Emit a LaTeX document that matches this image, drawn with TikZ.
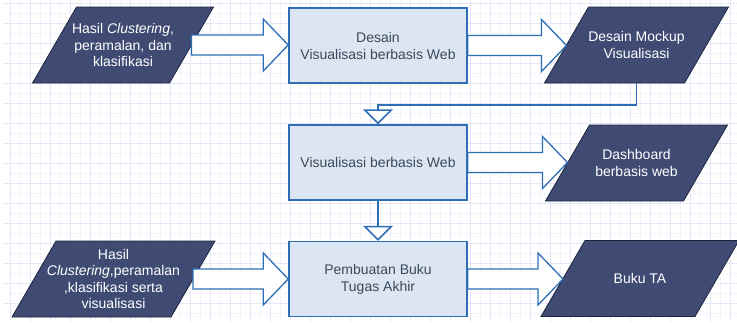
\documentclass[tikz,border=0pt]{standalone}
\usepackage{fontspec}
\setmainfont{Liberation Sans}
\usetikzlibrary{arrows.meta,calc,backgrounds}

\definecolor{gridmajor}{RGB}{230,230,248}
\definecolor{gridminor}{RGB}{243,243,252}
\definecolor{boxfill}{RGB}{220,230,242}
\definecolor{boxline}{RGB}{46,110,180}
\definecolor{parafill}{RGB}{64,75,115}
\definecolor{paraline}{RGB}{28,36,60}
\definecolor{boxtext}{RGB}{60,72,92}

\tikzset{
  process/.style={draw=boxline, fill=boxfill, line width=1.5pt, minimum width=178pt,
    minimum height=75pt, align=center, text=boxtext, font=\fontsize{14}{17}\selectfont},
  data/.style={minimum width=#1, minimum height=76pt, inner sep=0pt, outer sep=0pt,
    align=center, text=white, font=\fontsize{14}{16.5}\selectfont},
  databox/.style={draw=paraline, fill=parafill, line width=0.8pt, line join=miter},
  flow/.style={draw=boxline, line width=1.5pt,
    -{Triangle[open, width=30pt, length=15pt, fill=white]}},
  blockarrow/.style={draw=boxline, fill=white, line width=1.3pt, line join=miter}
}

\newcommand{\bigarrow}[2]{%
  \draw[blockarrow] let \p1=(#1.east), \p2=(#2.west) in
    (\x1,\y1+10pt) -- (\x2-25pt,\y1+10pt) -- (\x2-25pt,\y1+26pt) -- (\x2,\y1)
    -- (\x2-25pt,\y1-26pt) -- (\x2-25pt,\y1-10pt) -- (\x1,\y1-10pt) -- cycle;}

\begin{document}
\begin{tikzpicture}[x=1pt, y=-1pt]
    \useasboundingbox (0,0) rectangle (737,322);
    \begin{scope}[on background layer, shift={(10,3)}]
        \draw[gridminor, line width=0.5pt, step=10pt] (-6,-3) grid (727,319);
        \draw[gridmajor, line width=0.7pt, step=20pt] (-6,-3) grid (727,319);
    \end{scope}

    \node[data=137pt] (hasil) at (123,45) {Hasil \textit{Clustering},\\peramalan, dan\\klasifikasi};
    \node[process] (desain) at (378,45.5) {Desain\\Visualisasi berbasis Web};
    \node[data=140pt] (mockup) at (636.5,45) {Desain Mockup\\Visualisasi};
    \node[process] (web) at (378,162.5) {Visualisasi berbasis Web};
    \node[data=138pt] (dashboard) at (636.5,163) {Dashboard\\berbasis web};
    \node[data=159pt] (hasilvis) at (113.5,279) {Hasil\\\textit{Clustering},peramalan\\,klasifikasi serta\\visualisasi};
    \node[process] (buku) at (378,279) {Pembuatan Buku\\Tugas Akhir};
    \node[data=154pt] (bukuta) at (640,278.5) {Buku TA};

    \begin{scope}[on background layer]
        \foreach \n in {hasil,mockup,dashboard,hasilvis,bukuta}
            \draw[databox] ($(\n.north west)+(22,0)$) -- ($(\n.north east)+(22,0)$)
                -- ($(\n.south east)+(-22,0)$) -- ($(\n.south west)+(-22,0)$) -- cycle;
    \end{scope}

    \bigarrow{hasil}{desain}
    \bigarrow{desain}{mockup}
    \bigarrow{web}{dashboard}
    \bigarrow{hasilvis}{buku}
    \bigarrow{buku}{bukuta}

    \draw[flow] (mockup.south) -- ++(0,22) -| (web.north);
    \draw[flow] (web) -- (buku);
\end{tikzpicture}
\end{document}
